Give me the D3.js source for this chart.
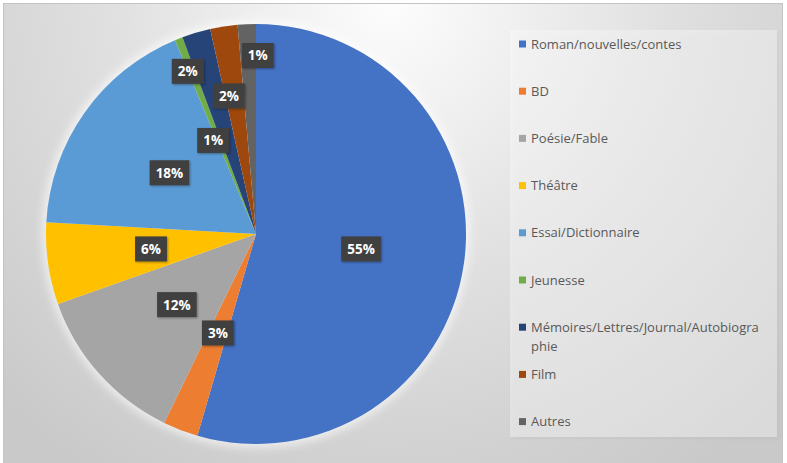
<!DOCTYPE html>
<html>
<head>
<meta charset="utf-8">
<script src="https://cdn.jsdelivr.net/npm/d3@7"></script>
<style>
  html, body { margin: 0; padding: 0; background: #ffffff; }
  svg { display: block; }
</style>
</head>
<body>
<svg id="chart" width="787" height="463"></svg>
<script>
// Genres of the books read, share in percent
const categories = [
  "Roman/nouvelles/contes",
  "BD",
  "Poésie/Fable",
  "Théâtre",
  "Essai/Dictionnaire",
  "Jeunesse",
  "Mémoires/Lettres/Journal/Autobiographie",
  "Film",
  "Autres"
];
const shares = [54.5, 2.7, 12.4, 6.3, 17.8, 0.6, 2.2, 2.1, 1.4];
const sliceColors = ["#4472C4", "#ED7D31", "#A5A5A5", "#FFC000", "#5B9BD5",
                     "#70AD47", "#264478", "#9E480E", "#636363"];

const W = 787, H = 463;
const svg = d3.select("#chart");
const defs = svg.append("defs");

// background gradient of the chart area
const bg = defs.append("radialGradient").attr("id", "bgGrad")
  .attr("gradientUnits", "userSpaceOnUse")
  .attr("cx", 390).attr("cy", 0).attr("r", 560);
bg.append("stop").attr("offset", "0%").attr("stop-color", "#fdfdfd");
bg.append("stop").attr("offset", "50%").attr("stop-color", "#e0e0e0");
bg.append("stop").attr("offset", "100%").attr("stop-color", "#c9c9c9");

const glow = defs.append("filter").attr("id", "glow")
  .attr("x", "-20%").attr("y", "-20%").attr("width", "140%").attr("height", "140%");
glow.append("feGaussianBlur").attr("stdDeviation", 4);

const shadow = defs.append("filter").attr("id", "shadow")
  .attr("x", "-30%").attr("y", "-30%").attr("width", "160%").attr("height", "160%");
shadow.append("feDropShadow").attr("dx", 1).attr("dy", 1)
  .attr("stdDeviation", 1.2).attr("flood-color", "#000").attr("flood-opacity", 0.35);

const panelShadow = defs.append("filter").attr("id", "panelShadow")
  .attr("x", "-5%").attr("y", "-5%").attr("width", "110%").attr("height", "110%");
panelShadow.append("feDropShadow").attr("dx", 2).attr("dy", 2)
  .attr("stdDeviation", 2).attr("flood-color", "#000").attr("flood-opacity", 0.12);

// chart area with its thin frame
svg.append("rect").attr("x", 3.5).attr("y", 3.5).attr("width", 779).attr("height", 470)
  .attr("fill", "url(#bgGrad)").attr("stroke", "#c4c4c4").attr("stroke-width", 1);

// legend panel
svg.append("rect").attr("x", 510).attr("y", 30).attr("width", 267).attr("height", 407)
  .attr("fill", "#ffffff").attr("fill-opacity", 0.35).attr("filter", "url(#panelShadow)");

// ---- pie ----
const cx = 256, cy = 234, R = 210;
const total = d3.sum(shares);
const color = d3.scaleOrdinal().domain(categories).range(sliceColors);
const pie = d3.pie().value(d => d.v).sort(null);
const data = pie(categories.map((c, i) => ({ c, v: shares[i] })));
const arc = d3.arc().innerRadius(0).outerRadius(R);

const g = svg.append("g").attr("transform", `translate(${cx},${cy})`);

// soft halo around the pie
g.append("circle").attr("r", R + 4).attr("fill", "#ffffff").attr("opacity", 0.6)
  .attr("filter", "url(#glow)");

g.selectAll("path.slice").data(data).join("path")
  .attr("class", "slice")
  .attr("d", arc)
  .attr("fill", d => color(d.data.c));

// label placement: radius fraction and angle nudge (degrees) for crowded small slices
const labelNudge = {
  "Jeunesse": { r: 0.49, da: -3 },
  "Mémoires/Lettres/Journal/Autobiographie": { r: 0.84, da: -6.2 },
  "Film": { r: 0.67, da: -2.3 },
  "Autres": { r: 0.85, da: 3.1 }
};

const fmt = v => Math.round(v / total * 100) + "%";

const labels = g.selectAll("g.lbl").data(data).join("g").attr("class", "lbl")
  .attr("transform", d => {
    const n = labelNudge[d.data.c] || { r: 0.505, da: 0 };
    const a = (d.startAngle + d.endAngle) / 2 + n.da * Math.PI / 180;
    const rr = R * n.r;
    return `translate(${rr * Math.sin(a)},${-rr * Math.cos(a)})`;
  });

labels.append("rect").attr("fill", "#404040").attr("filter", "url(#shadow)");
labels.append("text")
  .attr("text-anchor", "middle")
  .attr("dy", "0.36em")
  .attr("fill", "#ffffff")
  .attr("font-family", "'Open Sans', 'Noto Sans', sans-serif")
  .attr("font-weight", "bold")
  .attr("font-size", 13.5)
  .text(d => fmt(d.data.v));
labels.each(function() {
  const t = d3.select(this).select("text").node().getBBox();
  d3.select(this).select("rect")
    .attr("x", -t.width / 2 - 6).attr("y", -12.5)
    .attr("width", t.width + 12).attr("height", 25);
});

// ---- legend ----
const ly = d3.scalePoint().domain(categories).range([44, 421.6]);
const legendFont = "'Open Sans', 'Noto Sans', sans-serif";
const maxLine = 234;
const measure = svg.append("text").attr("font-family", legendFont).attr("font-size", 13)
  .attr("visibility", "hidden");
function wrap(str) {
  const lines = [];
  let cur = "";
  for (const ch of str) {
    measure.text(cur + ch);
    if (cur && measure.node().getComputedTextLength() > maxLine) {
      lines.push(cur); cur = ch;
    } else cur += ch;
  }
  lines.push(cur);
  return lines;
}

const leg = svg.append("g").selectAll("g").data(categories).join("g")
  .attr("transform", d => `translate(519,${ly(d)})`);
leg.append("rect").attr("x", 0).attr("y", -3.5).attr("width", 7).attr("height", 7)
  .attr("fill", d => color(d));
leg.append("text")
  .attr("x", 12)
  .attr("fill", "#595959")
  .attr("font-family", legendFont)
  .attr("font-size", 13)
  .each(function(d) {
    const lines = wrap(d);
    d3.select(this).selectAll("tspan").data(lines).join("tspan")
      .attr("x", 12)
      .attr("y", (l, i) => i * 19)
      .attr("dy", "0.35em")
      .text(l => l);
  });
measure.remove();
</script>
</body>
</html>
